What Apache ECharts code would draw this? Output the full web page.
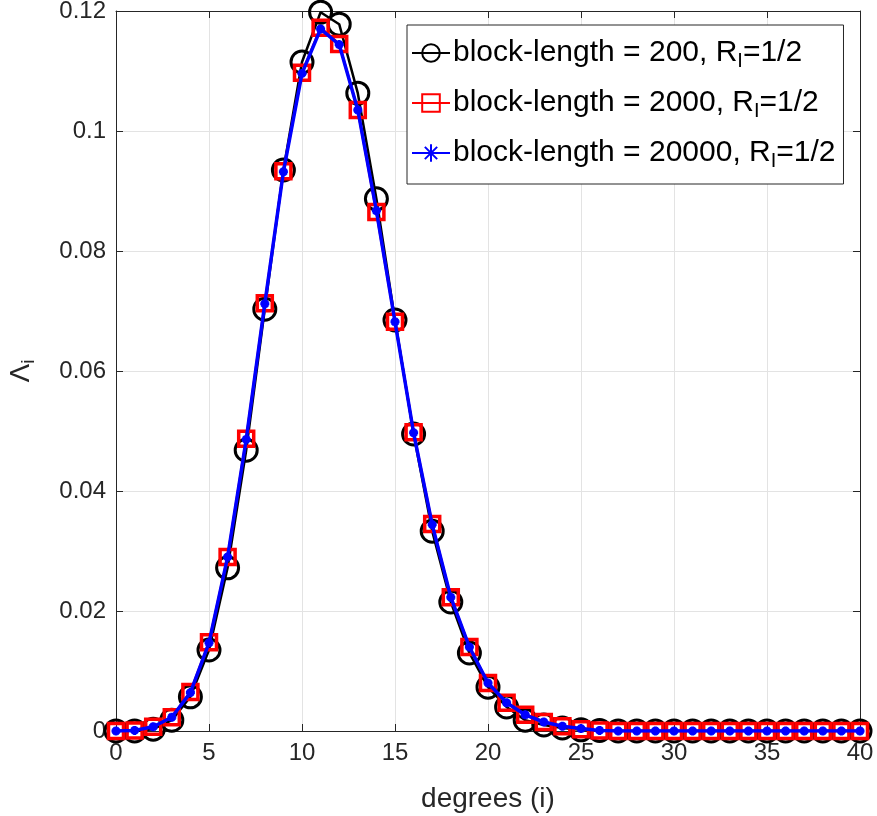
<!DOCTYPE html>
<html>
<head>
<meta charset="utf-8">
<script src="https://cdn.jsdelivr.net/npm/echarts@6/dist/echarts.min.js"></script>
<style>
  html, body { margin: 0; padding: 0; background: #fff; }
  #chart { width: 877px; height: 816px; }
</style>
</head>
<body>
<div id="chart"></div>
<script>
// degree index i = 0..40
const degrees = Array.from({ length: 41 }, (_, i) => i);

// degree distribution Λ_i for three block lengths (rate 1/2)
const lambda200 = [
  0, 0, 0.0003, 0.0018, 0.0057, 0.0135, 0.0272, 0.0468, 0.0703, 0.0935,
  0.1115, 0.1198, 0.1178, 0.1063, 0.0887, 0.0685, 0.0495, 0.0333, 0.0215, 0.0130,
  0.0073, 0.0040, 0.0018, 0.0010, 0.0005, 0.0002, 0.0001, 0, 0, 0,
  0, 0, 0, 0, 0, 0, 0, 0, 0, 0, 0
];
const lambda2000 = [
  0, 0.0001, 0.0007, 0.0023, 0.0065, 0.0148, 0.0290, 0.0487, 0.0713, 0.0933,
  0.1097, 0.1172, 0.1145, 0.1035, 0.0865, 0.0682, 0.0498, 0.0345, 0.0223, 0.0140,
  0.0080, 0.0047, 0.0027, 0.0015, 0.0008, 0.0003, 0.0001, 0, 0, 0,
  0, 0, 0, 0, 0, 0, 0, 0, 0, 0, 0
];
const lambda20000 = [
  0, 0.0001, 0.0007, 0.0023, 0.0064, 0.0147, 0.0290, 0.0486, 0.0712, 0.0932,
  0.1096, 0.1170, 0.1144, 0.1035, 0.0867, 0.0682, 0.0497, 0.0344, 0.0223, 0.0140,
  0.0080, 0.0047, 0.0027, 0.0015, 0.0008, 0.0004, 0.0001, 0, 0, 0,
  0, 0, 0, 0, 0, 0, 0, 0, 0, 0, 0
];

const seriesNames = [
  'block-length = 200, R_I=1/2',
  'block-length = 2000, R_I=1/2',
  'block-length = 20000, R_I=1/2'
];

const FONT = '"Liberation Sans", Arial, Helvetica, sans-serif';
const TXT = '#262626';
const asterisk = 'path://M0,-5L0,5M-5,0L5,0M-3.5,-3.5L3.5,3.5M-3.5,3.5L3.5,-3.5';

const pairs = (ys) => degrees.map((x, k) => [x, ys[k]]);

const chart = echarts.init(document.getElementById('chart'), null, { renderer: 'canvas' });

const axisCommon = {
  axisLine: { show: true, onZero: false, lineStyle: { color: TXT, width: 1 } },
  axisTick: { show: true, inside: true, length: 7, lineStyle: { color: TXT } },
  splitLine: { show: false }
};

chart.setOption({
  backgroundColor: '#fff',
  animation: false,
  grid: { left: 116, right: 17, top: 11, bottom: 85, containLabel: false, outerBoundsMode: 'none' },
  legend: {
    left: 407, top: 25,
    orient: 'vertical',
    backgroundColor: '#fff',
    borderColor: '#262626',
    borderWidth: 1,
    padding: [13, 8, 13, 4],
    itemWidth: 38, itemHeight: 22, itemGap: 17,
    data: seriesNames,
    formatter: (n) => {
      const m = n.match(/^(.*R)_I(=.*)$/);
      return '{a|' + m[1] + '}{s|I}{a|' + m[2] + '}';
    },
    textStyle: {
      fontFamily: FONT, color: '#000', padding: [0, 0, 0, -2],
      rich: {
        a: { fontFamily: FONT, fontSize: 30, color: '#000' },
        s: { fontFamily: FONT, fontSize: 20, color: '#000', verticalAlign: 'bottom', padding: [16, 0, 0, 0] }
      }
    }
  },
  xAxis: [
    {
      type: 'value', min: 0, max: 40, interval: 5, position: 'bottom',
      name: 'degrees (i)', nameLocation: 'middle', nameGap: 54,
      nameTextStyle: { fontFamily: FONT, fontSize: 28, color: TXT },
      axisLabel: { fontFamily: FONT, fontSize: 24, color: TXT, margin: 10 },
      ...axisCommon,
      splitLine: { show: true, lineStyle: { color: '#e3e3e3', width: 1 } }
    },
    {
      type: 'value', min: 0, max: 40, interval: 5, position: 'top',
      axisLabel: { show: false }, ...axisCommon
    }
  ],
  yAxis: [
    {
      type: 'value', min: 0, max: 0.12, interval: 0.02, position: 'left',
      name: '{L|Λ}{s|i}', nameLocation: 'middle', nameGap: 78, nameRotate: 90,
      nameTextStyle: {
        fontFamily: FONT, color: TXT,
        rich: {
          L: { fontFamily: FONT, fontSize: 28, color: TXT },
          s: { fontFamily: FONT, fontSize: 19, color: TXT, verticalAlign: 'bottom', padding: [14, 0, 0, 0] }
        }
      },
      axisLabel: {
        fontFamily: FONT, fontSize: 24, color: TXT, margin: 10,
        formatter: (v) => (v === 0 ? '0' : String(+v.toFixed(2)))
      },
      ...axisCommon,
      splitLine: { show: true, lineStyle: { color: '#e3e3e3', width: 1 } }
    },
    {
      type: 'value', min: 0, max: 0.12, interval: 0.02, position: 'right',
      axisLabel: { show: false }, ...axisCommon
    }
  ],
  series: [
    {
      name: seriesNames[0], type: 'line', data: pairs(lambda200),
      symbol: 'circle', symbolSize: 22, showAllSymbol: true,
      lineStyle: { color: '#000', width: 2.5 },
      itemStyle: { color: 'rgba(0,0,0,0)', borderColor: '#000', borderWidth: 3 },
      z: 2
    },
    {
      name: seriesNames[1], type: 'line', data: pairs(lambda2000),
      symbol: 'rect', symbolSize: 15, showAllSymbol: true,
      lineStyle: { color: '#ff0000', width: 2.5 },
      itemStyle: { color: 'rgba(0,0,0,0)', borderColor: '#ff0000', borderWidth: 3.5 },
      z: 3
    },
    {
      name: seriesNames[2], type: 'line', data: pairs(lambda20000),
      symbol: asterisk, symbolSize: 9, showAllSymbol: true,
      lineStyle: { color: '#0000ff', width: 3.5 },
      itemStyle: { color: '#0000ff', borderColor: '#0000ff', borderWidth: 3 },
      z: 4
    }
  ]
});
</script>
</body>
</html>
